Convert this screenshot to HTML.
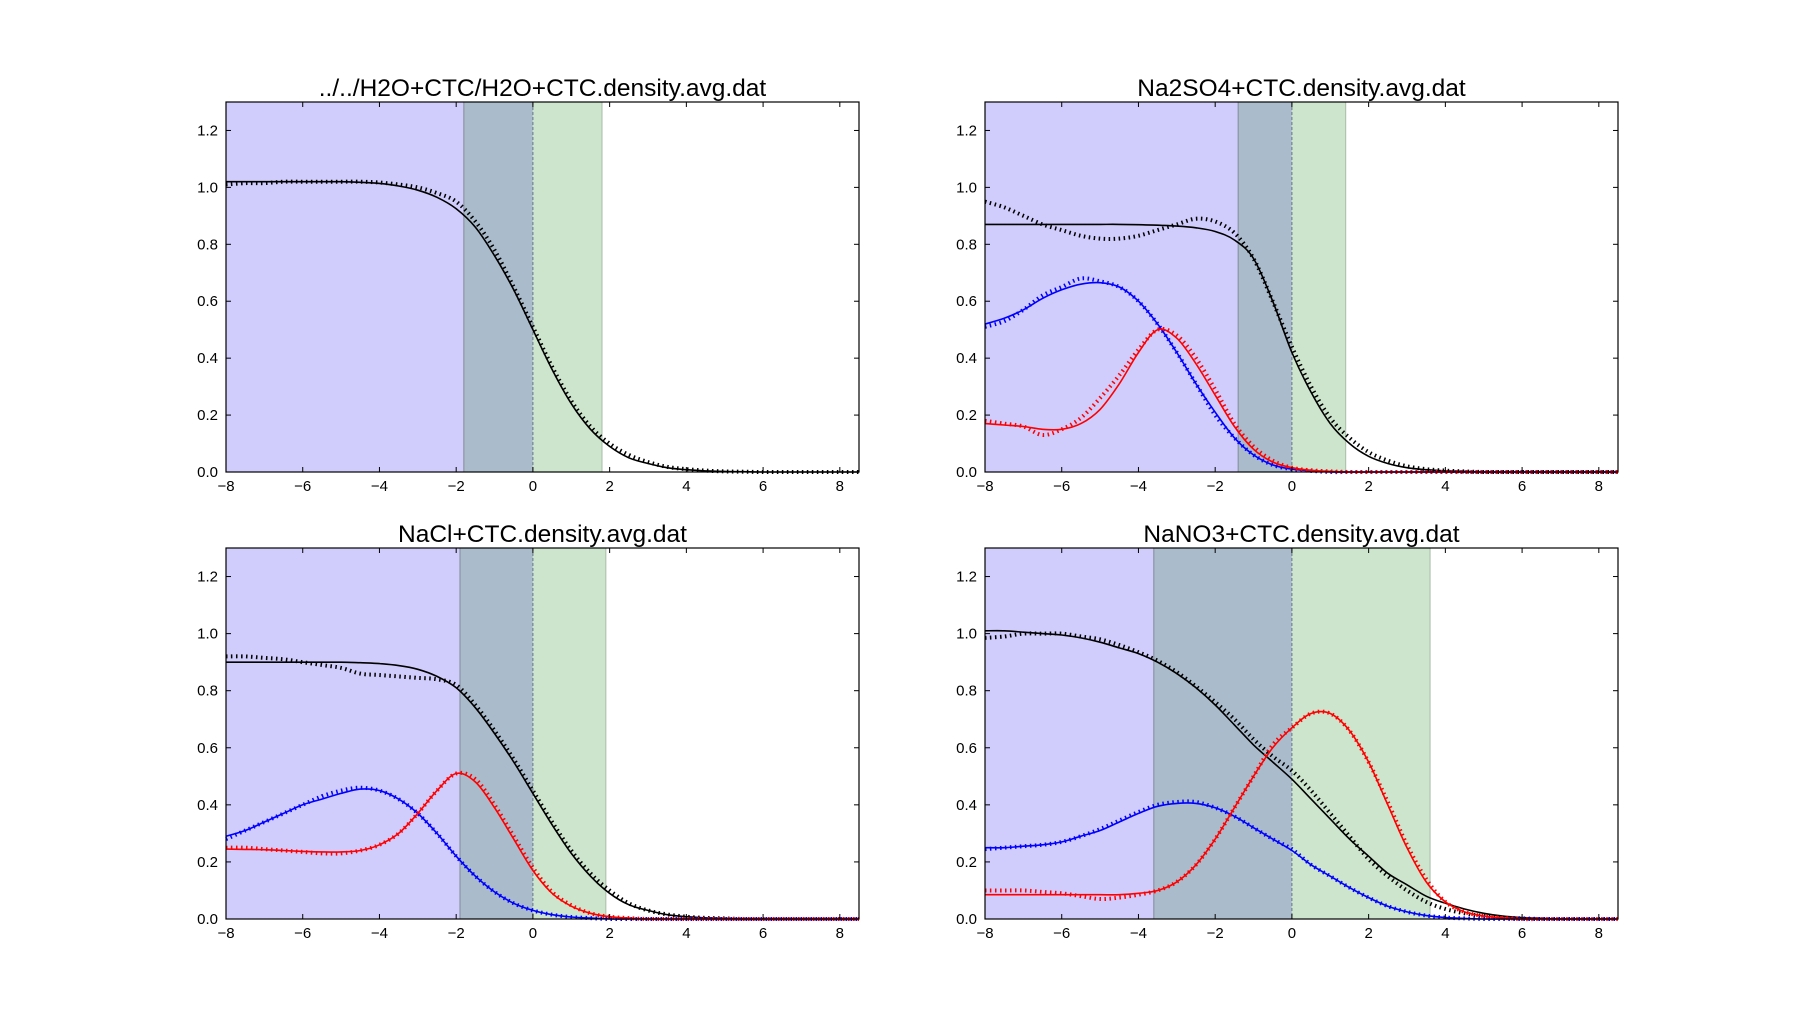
<!DOCTYPE html>
<html><head><meta charset="utf-8"><style>
body{margin:0;background:#fff;}
svg text{font-family:"Liberation Sans",sans-serif;}
</style></head><body>
<svg id="fig" width="1800" height="1020" viewBox="0 0 1800 1020" xmlns="http://www.w3.org/2000/svg"></svg>
<script>
const xs = [-8,-7.5,-7,-6.5,-6,-5.5,-5,-4.5,-4,-3.5,-3,-2.5,-2,-1.5,-1,-0.5,0,0.5,1,1.5,2,2.5,3,3.5,4,4.5,5,5.5,6,6.5,7,7.5,8,8.5];
const xTicks = [-8,-6,-4,-2,0,2,4,6,8];
const yTicks = [0,0.2,0.4,0.6,0.8,1.0,1.2];
const titles = ["../../H2O+CTC/H2O+CTC.density.avg.dat","Na2SO4+CTC.density.avg.dat","NaCl+CTC.density.avg.dat","NaNO3+CTC.density.avg.dat"];
const bandHalf = [1.8,1.4,1.9,3.6];
// panel 1
const p1BlackFit = [1.02,1.02,1.02,1.02,1.02,1.02,1.02,1.018,1.014,1.005,0.99,0.965,0.925,0.86,0.76,0.64,0.5,0.36,0.24,0.15,0.09,0.05,0.03,0.015,0.008,0.004,0.002,0.001,0,0,0,0,0,0];
const p1BlackData = [1.01,1.015,1.015,1.02,1.02,1.02,1.02,1.02,1.017,1.01,1.0,0.98,0.95,0.88,0.78,0.65,0.51,0.37,0.25,0.16,0.1,0.06,0.035,0.018,0.01,0.005,0.002,0.001,0,0,0,0,0,0];
// panel 2
const p2BlackFit = [0.87,0.87,0.87,0.87,0.87,0.87,0.87,0.87,0.869,0.867,0.864,0.858,0.845,0.815,0.75,0.6,0.42,0.28,0.17,0.1,0.055,0.03,0.015,0.008,0.004,0.002,0,0,0,0,0,0,0,0];
const p2BlackData = [0.95,0.93,0.9,0.87,0.85,0.83,0.82,0.82,0.83,0.85,0.87,0.89,0.88,0.84,0.75,0.6,0.44,0.3,0.19,0.12,0.07,0.04,0.02,0.01,0.005,0.002,0,0,0,0,0,0,0,0];
const p2BlueFit = [0.52,0.54,0.57,0.61,0.64,0.66,0.665,0.65,0.6,0.52,0.42,0.31,0.21,0.12,0.06,0.025,0.01,0.004,0,0,0,0,0,0,0,0,0,0,0,0,0,0,0,0];
const p2BlueData = [0.51,0.53,0.57,0.62,0.65,0.68,0.67,0.65,0.6,0.52,0.42,0.31,0.2,0.12,0.06,0.025,0.01,0.004,0,0,0,0,0,0,0,0,0,0,0,0,0,0,0,0];
const p2RedFit = [0.17,0.165,0.16,0.15,0.15,0.17,0.22,0.31,0.42,0.5,0.47,0.38,0.27,0.16,0.08,0.035,0.015,0.006,0.002,0,0,0,0,0,0,0,0,0,0,0,0,0,0,0];
const p2RedData = [0.18,0.17,0.16,0.13,0.15,0.19,0.26,0.34,0.43,0.5,0.48,0.4,0.29,0.17,0.09,0.04,0.015,0.006,0.002,0,0,0,0,0,0,0,0,0,0,0,0,0,0,0];
// panel 3
const p3BlackFit = [0.9,0.9,0.9,0.9,0.9,0.9,0.9,0.898,0.895,0.888,0.875,0.85,0.81,0.74,0.65,0.55,0.44,0.33,0.23,0.15,0.09,0.05,0.03,0.015,0.008,0.004,0.002,0,0,0,0,0,0,0];
const p3BlackData = [0.92,0.92,0.915,0.91,0.9,0.89,0.88,0.86,0.855,0.85,0.845,0.84,0.82,0.75,0.66,0.56,0.45,0.34,0.24,0.16,0.1,0.055,0.03,0.016,0.008,0.004,0.002,0,0,0,0,0,0,0];
const p3BlueFit = [0.29,0.31,0.34,0.37,0.4,0.42,0.44,0.455,0.45,0.42,0.37,0.3,0.22,0.15,0.095,0.055,0.03,0.015,0.007,0.003,0,0,0,0,0,0,0,0,0,0,0,0,0,0];
const p3BlueData = [0.28,0.31,0.34,0.37,0.4,0.43,0.45,0.46,0.45,0.42,0.37,0.3,0.22,0.15,0.095,0.055,0.03,0.015,0.007,0.003,0,0,0,0,0,0,0,0,0,0,0,0,0,0];
const p3RedFit = [0.245,0.244,0.243,0.24,0.237,0.235,0.235,0.24,0.26,0.3,0.37,0.45,0.51,0.48,0.39,0.28,0.17,0.09,0.045,0.02,0.008,0.003,0,0,0,0,0,0,0,0,0,0,0,0];
const p3RedData = [0.25,0.25,0.245,0.24,0.235,0.23,0.23,0.24,0.26,0.3,0.37,0.45,0.51,0.49,0.4,0.29,0.18,0.095,0.048,0.02,0.008,0.003,0,0,0,0,0,0,0,0,0,0,0,0];
// panel 4
const p4BlackFit = [1.01,1.01,1.005,1.0,0.995,0.985,0.97,0.95,0.93,0.9,0.86,0.81,0.75,0.68,0.61,0.55,0.49,0.42,0.35,0.28,0.22,0.16,0.12,0.08,0.055,0.035,0.02,0.01,0.005,0.002,0,0,0,0];
const p4BlackData = [0.985,0.99,1.0,1.0,1.0,0.99,0.98,0.96,0.935,0.905,0.865,0.815,0.76,0.7,0.63,0.57,0.52,0.45,0.37,0.29,0.21,0.15,0.1,0.06,0.035,0.02,0.01,0.004,0.002,0,0,0,0,0];
const p4BlueFit = [0.25,0.25,0.255,0.26,0.27,0.29,0.31,0.34,0.37,0.395,0.405,0.405,0.39,0.36,0.32,0.28,0.24,0.19,0.15,0.11,0.075,0.045,0.025,0.012,0.005,0.002,0,0,0,0,0,0,0,0];
const p4BlueData = [0.245,0.25,0.255,0.26,0.27,0.29,0.315,0.345,0.375,0.4,0.41,0.41,0.39,0.36,0.32,0.28,0.245,0.19,0.15,0.11,0.075,0.045,0.025,0.012,0.005,0.002,0,0,0,0,0,0,0,0];
const p4RedFit = [0.085,0.085,0.085,0.085,0.085,0.085,0.085,0.085,0.09,0.1,0.13,0.19,0.28,0.39,0.5,0.6,0.67,0.72,0.72,0.66,0.55,0.4,0.25,0.13,0.06,0.025,0.01,0.004,0,0,0,0,0,0];
const p4RedData = [0.1,0.1,0.1,0.095,0.09,0.08,0.07,0.075,0.085,0.1,0.13,0.19,0.28,0.39,0.5,0.61,0.67,0.72,0.72,0.66,0.55,0.41,0.26,0.14,0.06,0.025,0.01,0.004,0,0,0,0,0,0];

const panels = [
 {series:[[p1BlackFit,p1BlackData,'#000']]},
 {series:[[p2BlackFit,p2BlackData,'#000'],[p2BlueFit,p2BlueData,'#0000ff'],[p2RedFit,p2RedData,'#ff0000']]},
 {series:[[p3BlackFit,p3BlackData,'#000'],[p3BlueFit,p3BlueData,'#0000ff'],[p3RedFit,p3RedData,'#ff0000']]},
 {series:[[p4BlackFit,p4BlackData,'#000'],[p4BlueFit,p4BlueData,'#0000ff'],[p4RedFit,p4RedData,'#ff0000']]}
];
const boxes = [[226,102,859,472],[985,102,1618,472],[226,548,859,919],[985,548,1618,919]];
const NS='http://www.w3.org/2000/svg';
const fig=document.getElementById('fig');
function mk(tag,attrs,parent){const e=document.createElementNS(NS,tag);for(const k in attrs)e.setAttribute(k,attrs[k]);parent.appendChild(e);return e;}
function smooth(pts){let d='M'+pts[0][0].toFixed(1)+','+pts[0][1].toFixed(1);
 for(let i=0;i<pts.length-1;i++){const p0=pts[Math.max(0,i-1)],p1=pts[i],p2=pts[i+1],p3=pts[Math.min(pts.length-1,i+2)];
  const c1=[p1[0]+(p2[0]-p0[0])/6,p1[1]+(p2[1]-p0[1])/6],c2=[p2[0]-(p3[0]-p1[0])/6,p2[1]-(p3[1]-p1[1])/6];
  d+=' C'+c1[0].toFixed(1)+','+c1[1].toFixed(1)+' '+c2[0].toFixed(1)+','+c2[1].toFixed(1)+' '+p2[0].toFixed(1)+','+p2[1].toFixed(1);}
 return d;}
panels.forEach((p,pi)=>{
 const [L,T,R,B]=boxes[pi];
 const X=v=>L+(v+8)/16.5*(R-L);
 const Y=v=>B-v/1.3*(B-T);
 const g=mk('g',{},fig);
 
 
 const h=bandHalf[pi];
 const b1=mk('rect',{x:L,y:T,width:X(-h)-L,height:B-T,fill:'#d0ccfc'},g);
 
 
 const b2=mk('rect',{x:X(-h),y:T,width:X(0)-X(-h),height:B-T,fill:'#aabbcc'},g);
 
 
 const b3=mk('rect',{x:X(0),y:T,width:X(h)-X(0),height:B-T,fill:'#cde5cc'},g);
 
 
 mk('line',{x1:X(-h),x2:X(-h),y1:T,y2:B,stroke:'#8a94a4','stroke-width':1.2},g);
 mk('line',{x1:X(h),x2:X(h),y1:T,y2:B,stroke:'#b0c4b0','stroke-width':1.2},g);
 mk('line',{x1:X(0),x2:X(0),y1:T,y2:B,stroke:'#667788','stroke-width':1,'stroke-dasharray':'3 2'},g);
 p.series.forEach(s=>{
  const fit=mk('path',{d:smooth(xs.map((x,i)=>[X(x),Y(s[0][i])])),fill:'none',stroke:s[2],'stroke-width':1.6},g);
  
  
  const dat=mk('path',{d:smooth(xs.map((x,i)=>[X(x),Y(s[1][i])])),fill:'none',stroke:s[2],'stroke-width':4,'stroke-dasharray':'1.5 3.5'},g);
  
  
 });
 mk('rect',{x:L,y:T,width:R-L,height:B-T,fill:'none',stroke:'#000','stroke-width':1.2},g);
 xTicks.forEach(t=>{const x=X(t);
  mk('line',{x1:x,x2:x,y1:B,y2:B-5,stroke:'#000'},g);mk('line',{x1:x,x2:x,y1:T,y2:T+5,stroke:'#000'},g);
  const tx=mk('text',{x:x,y:B+19,'text-anchor':'middle','font-size':15},g);tx.textContent=(t<0?'\u2212'+(-t):t);
  
  });
 yTicks.forEach(t=>{const y=Y(t);
  mk('line',{x1:L,x2:L+5,y1:y,y2:y,stroke:'#000'},g);mk('line',{x1:R,x2:R-5,y1:y,y2:y,stroke:'#000'},g);
  const ty=mk('text',{x:L-8,y:y+5,'text-anchor':'end','font-size':15},g);ty.textContent=t.toFixed(1);
  
  });
 const ti=mk('text',{x:(L+R)/2,y:T-6,'text-anchor':'middle','font-size':24.5},g);ti.textContent=titles[pi];
 
 
});
</script>
</body></html>
